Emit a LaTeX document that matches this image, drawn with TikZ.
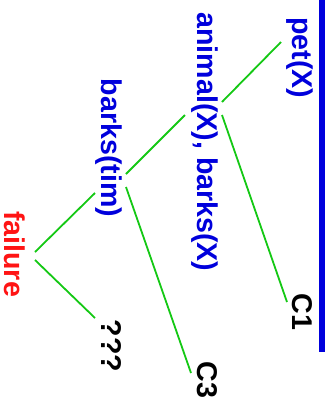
\documentclass[tikz,border=0pt]{standalone}
\usepackage{fontspec}
\setmainfont{Liberation Sans}
\usetikzlibrary{calc}
\definecolor{goalblue}{RGB}{0,0,220}
\definecolor{edgegreen}{RGB}{20,200,20}
\definecolor{failred}{RGB}{255,20,20}
\begin{document}
\begin{tikzpicture}[x=1pt,y=-1pt,
  lbl/.style={inner sep=0pt, rotate=-90, font=\fontsize{28.6}{34}\selectfont\bfseries},
  goal/.style={lbl, text=goalblue},
  leaf/.style={lbl, text=black},
  fail/.style={lbl, text=failred},
  edge/.style={draw=edgegreen, line width=1.8pt},
  rule/.style={draw=goalblue, line width=6pt}]
\useasboundingbox (0,0) rectangle (327,405);

% goals and leaves of the search tree
\node[goal] (pet) at (300,58) {pet(X)};
\node[goal] (animal) at (205,142) {animal(X), barks(X)};
\node[goal] (barks) at (109,148) {barks(tim)};
\node[fail] (failure) at (15,254) {failure};
\node[leaf] (c1) at (302,312) {C1};
\node[leaf] (c3) at (207,380) {C3};
\node[leaf] (unknown) at (111,346) {???};

% top rule
\coordinate (ruletop) at (322,0);
\coordinate (rulebot) at (322,352);
\draw[rule] (ruletop) -- (rulebot);

% branches
\draw[edge] ($(pet.center)+(-19,-16)$) -- ($(animal.center)+(17,-40)$);
\draw[edge] ($(animal.center)+(17,-27)$) -- ($(c1.center)+(-15,-10)$);
\draw[edge] ($(animal.center)+(-20,-27)$) -- ($(barks.center)+(17,26)$);
\draw[edge] ($(barks.center)+(17,39)$) -- ($(c3.center)+(-16,-7)$);
\draw[edge] ($(barks.center)+(-14,45)$) -- ($(failure.center)+(20,-2)$);
\draw[edge] ($(failure.center)+(20,6)$) -- ($(unknown.center)+(-16,-28)$);
\end{tikzpicture}
\end{document}
